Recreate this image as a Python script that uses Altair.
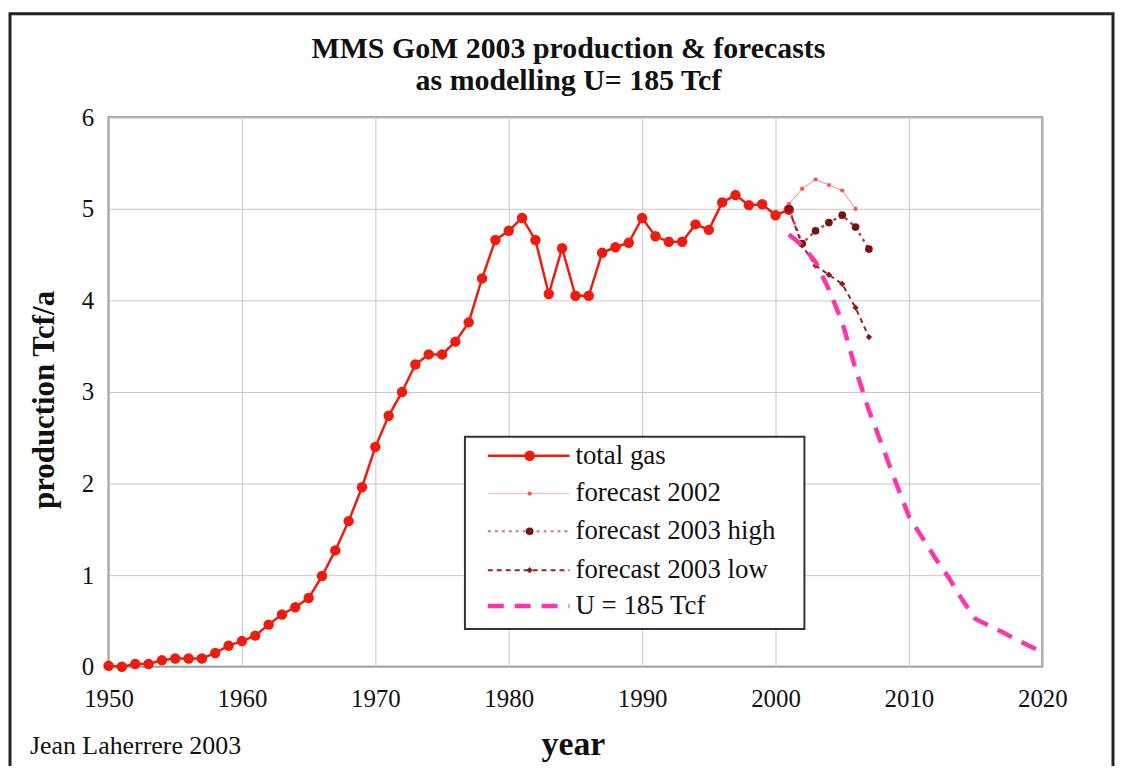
import altair as alt
import pandas as pd

# ---------------- data ----------------
years_total = list(range(1950, 2002))
total_gas = [0.01, 0.00, 0.03, 0.03, 0.07, 0.09, 0.09, 0.09, 0.15, 0.23,
             0.28, 0.34, 0.46, 0.57, 0.65, 0.75, 0.99, 1.27, 1.59, 1.96,
             2.40, 2.74, 3.00, 3.30, 3.41, 3.41, 3.55, 3.76, 4.24, 4.66,
             4.76, 4.90, 4.66, 4.07, 4.57, 4.05, 4.05, 4.52, 4.58, 4.63,
             4.90, 4.70, 4.64, 4.64, 4.83, 4.77, 5.07, 5.15, 5.04, 5.05,
             4.93, 4.99]

years_fc2002 = [2001, 2002, 2003, 2004, 2005, 2006]
fc2002 = [5.05, 5.22, 5.32, 5.26, 5.20, 5.00]

years_fc2003 = [2001, 2002, 2003, 2004, 2005, 2006, 2007]
fc2003_high = [5.00, 4.62, 4.76, 4.85, 4.93, 4.80, 4.56]
fc2003_low = [5.00, 4.60, 4.38, 4.28, 4.18, 3.92, 3.60]

years_u = list(range(2001, 2021))
u185 = [4.72, 4.60, 4.42, 4.12, 3.76, 3.25, 2.80, 2.41, 2.02, 1.64,
        1.41, 1.18, 0.97, 0.73, 0.52, 0.45, 0.38, 0.30, 0.23, 0.16]

series_names = ["total gas", "forecast 2002", "forecast 2003 high",
                "forecast 2003 low", "U = 185 Tcf"]
x_ticks = [1950, 1960, 1970, 1980, 1990, 2000, 2010, 2020]
y_ticks = [0, 1, 2, 3, 4, 5, 6]
title_lines = ["MMS GoM 2003 production & forecasts", "as modelling U= 185 Tcf"]
x_title = "year"
y_title = "production Tcf/a"
credit = "Jean Laherrere 2003"

# ---------------- tables ----------------
rows = []
for yrs, vals, name in [(years_total, total_gas, series_names[0]),
                        (years_fc2002, fc2002, series_names[1]),
                        (years_fc2003, fc2003_high, series_names[2]),
                        (years_fc2003, fc2003_low, series_names[3]),
                        (years_u, u185, series_names[4])]:
    for yr, v in zip(yrs, vals):
        rows.append({"year": yr, "value": v, "series": name})
df = pd.DataFrame(rows)
one = pd.DataFrame({"k": [0]})

SERIF = "Liberation Serif"
W, H = 938, 552

X = alt.X("year:Q", scale=alt.Scale(domain=[1950, 2020], nice=False),
          axis=alt.Axis(values=x_ticks, format="d", title=None, grid=True,
                        gridColor="#c8c8c8", gridWidth=1, ticks=False,
                        domain=False, labelFont=SERIF, labelFontSize=25,
                        labelColor="#111", labelPadding=20, labelFlush=False,
                        labelOverlap=False))
Y = alt.Y("value:Q", scale=alt.Scale(domain=[0, 6], nice=False),
          axis=alt.Axis(values=y_ticks, title=None, grid=True,
                        gridColor="#c8c8c8", gridWidth=1, ticks=False,
                        domain=False, labelFont=SERIF, labelFontSize=25,
                        labelColor="#111", labelPadding=15, labelFlush=False,
                        labelOverlap=False))

def series(name):
    return alt.Chart(df).transform_filter(alt.datum.series == name)

styles = {
    "total gas": dict(color="#ee1c0e", width=2.5, dash=None, pt=110, shape="circle", ptcolor="#ee1c0e"),
    "forecast 2002": dict(color="#ff8080", width=1, dash=None, pt=18, shape="circle", ptcolor="#ff5050"),
    "forecast 2003 high": dict(color="#b04848", width=2.5, dash=[3, 4], pt=60, shape="circle", ptcolor="#7a1010"),
    "forecast 2003 low": dict(color="#9a2020", width=2, dash=[5, 4], pt=40, shape="diamond", ptcolor="#8a1a1a"),
    "U = 185 Tcf": dict(color="#ff33aa", width=4.5, dash=[16, 11], pt=None, shape=None, ptcolor=None),
}

layers = []
# outer page frame
layers.append(alt.Chart(one).mark_rect(fillOpacity=0, stroke="#222", strokeWidth=3).encode(
    x=alt.value(-99), x2=alt.value(1009), y=alt.value(-104), y2=alt.value(720)))

for name in series_names:
    s = styles[name]
    kw = dict(color=s["color"], strokeWidth=s["width"])
    if s["dash"]:
        kw["strokeDash"] = s["dash"]
    layers.append(series(name).mark_line(**kw).encode(x=X, y=Y))
    if s["pt"]:
        layers.append(series(name).mark_point(filled=True, size=s["pt"], shape=s["shape"],
                                              color=s["ptcolor"], opacity=1).encode(x=X, y=Y))

# legend box
layers.append(alt.Chart(one).mark_rect(fill="white", stroke="#333", strokeWidth=2).encode(
    x=alt.value(358), x2=alt.value(699), y=alt.value(321), y2=alt.value(514)))
leg_y = [340, 378, 416, 455, 491]
leg_line_colors = {"total gas": "#ee1c0e", "forecast 2002": "#ffb0b0",
                   "forecast 2003 high": "#c89090", "forecast 2003 low": "#9a2020",
                   "U = 185 Tcf": "#ff33aa"}
for name, yy in zip(series_names, leg_y):
    s = styles[name]
    kw = dict(color=leg_line_colors[name], strokeWidth=s["width"])
    if s["dash"]:
        kw["strokeDash"] = s["dash"]
    layers.append(alt.Chart(one).mark_rule(**kw).encode(
        x=alt.value(381), x2=alt.value(463), y=alt.value(yy)))
    if s["pt"]:
        layers.append(alt.Chart(one).mark_point(filled=True, size=s["pt"], shape=s["shape"],
                                                color=s["ptcolor"], opacity=1).encode(
            x=alt.value(423), y=alt.value(yy)))
    layers.append(alt.Chart(one).mark_text(align="left", baseline="middle", font=SERIF,
                                           fontSize=27, color="#111").encode(
        x=alt.value(469), y=alt.value(yy), text=alt.value(name)))

# titles and labels
for txt, yy in zip(title_lines, [-68, -36]):
    layers.append(alt.Chart(one).mark_text(align="center", baseline="middle", font=SERIF,
                                           fontSize=30, fontWeight="bold", color="#111").encode(
        x=alt.value(462), y=alt.value(yy), text=alt.value(txt)))
layers.append(alt.Chart(one).mark_text(align="center", baseline="middle", font=SERIF,
                                       fontSize=31, fontWeight="bold", angle=270, color="#111").encode(
    x=alt.value(-64), y=alt.value(284), text=alt.value(y_title)))
layers.append(alt.Chart(one).mark_text(align="center", baseline="alphabetic", font=SERIF,
                                       fontSize=34, fontWeight="bold", color="#111").encode(
    x=alt.value(467), y=alt.value(641), text=alt.value(x_title)))
layers.append(alt.Chart(one).mark_text(align="left", baseline="alphabetic", font=SERIF,
                                       fontSize=26, color="#111").encode(
    x=alt.value(-79), y=alt.value(640), text=alt.value(credit)))

chart = alt.layer(*layers).properties(
    width=W, height=H,
    autosize=alt.AutoSizeParams(type="none"),
    padding={"left": 101, "top": 108, "right": 73, "bottom": 98},
    background="white",
).configure_view(stroke="#888", strokeWidth=2)

chart.save("out.html", embed_options={"renderer": "svg", "actions": False})
